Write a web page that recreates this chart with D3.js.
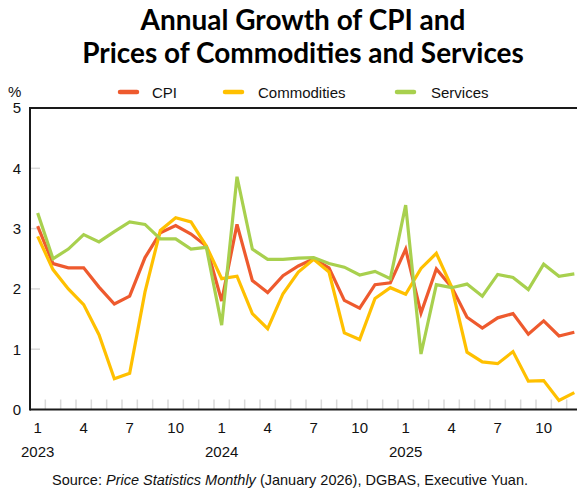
<!DOCTYPE html>
<html>
<head>
<meta charset="utf-8">
<script src="https://cdn.jsdelivr.net/npm/d3@7"></script>
<style>
  html, body { margin: 0; padding: 0; background: #fff; }
  svg { display: block; }
  .lbl { font-family: "Liberation Sans", Arial, Helvetica, sans-serif; }
</style>
</head>
<body>
<svg id="chart" width="577" height="490"></svg>
<script>
// Monthly periods, Jan 2023 – Dec 2025
const years = [2023, 2024, 2025];
const months = d3.range(1, 13);
const periods = years.flatMap(y => months.map(m => ({ year: y, month: m })));

// Year-on-year growth rates (%)
const cpi = [3.04, 2.42, 2.35, 2.35, 2.03, 1.75, 1.88, 2.52, 2.93, 3.05, 2.91, 2.71,
             1.80, 3.07, 2.14, 1.94, 2.22, 2.38, 2.50, 2.35, 1.81, 1.68, 2.07, 2.10,
             2.66, 1.60, 2.33, 2.03, 1.53, 1.35, 1.52, 1.59, 1.25, 1.47, 1.22, 1.28];
const commodities = [2.87, 2.32, 2.00, 1.74, 1.24, 0.51, 0.60, 1.95, 2.97, 3.18, 3.11, 2.71,
                     2.17, 2.21, 1.59, 1.34, 1.92, 2.28, 2.49, 2.28, 1.27, 1.16, 1.84, 2.02,
                     1.91, 2.34, 2.59, 2.03, 0.95, 0.79, 0.76, 0.96, 0.47, 0.48, 0.15, 0.28];
const services = [3.26, 2.50, 2.66, 2.90, 2.78, 2.95, 3.11, 3.07, 2.83, 2.83, 2.66, 2.69,
                  1.40, 3.86, 2.66, 2.49, 2.49, 2.51, 2.52, 2.42, 2.36, 2.23, 2.29, 2.17,
                  3.39, 0.92, 2.07, 2.02, 2.08, 1.88, 2.24, 2.19, 1.99, 2.41, 2.21, 2.25];

const seriesNames = ["CPI", "Commodities", "Services"];
const seriesColors = ["#ee5a2e", "#ffc000", "#a8d04e"];
const seriesValues = [cpi, commodities, services];

const yTicks = [0, 1, 2, 3, 4, 5];
const monthLabels = [1, 4, 7, 10];

const svg = d3.select("#chart");

const plot = { left: 30, right: 582, top: 108, bottom: 409.5 };

const x = d3.scaleBand()
  .domain(d3.range(periods.length))
  .range([plot.left, plot.right])
  .paddingInner(0).paddingOuter(0);

const y = d3.scaleLinear().domain([0, 5]).range([plot.bottom, plot.top]);

// Two-line title
const titleLines = ["Annual Growth of CPI and", "Prices of Commodities and Services"];
const title = svg.append("g")
  .attr("text-anchor", "middle")
  .attr("fill", "#000")
  .style("font-family", "Lato, 'Open Sans', sans-serif")
  .style("font-weight", 700)
  .style("font-size", "26px");
const titleEls = titleLines.map((t, i) =>
  title.append("text").attr("x", 303).attr("y", i === 0 ? 30 : 63).text(t));
// size the title so the longer line spans its intended width
const w2 = titleEls[1].node().getComputedTextLength();
title.style("font-size", (26 * 442 / w2) + "px");

// Legend
const legendItems = [
  { lx: 118, tx: 152 },
  { lx: 223, tx: 258 },
  { lx: 395, tx: 431 }
];
const legend = svg.append("g").attr("class", "lbl").style("font-size", "15px");
seriesNames.forEach((name, i) => {
  const it = legendItems[i];
  legend.append("line")
    .attr("x1", it.lx + 2).attr("x2", it.lx + 19)
    .attr("y1", 92).attr("y2", 92)
    .attr("stroke", seriesColors[i]).attr("stroke-width", 4.5)
    .attr("stroke-linecap", "round");
  legend.append("text").attr("class", "lbl").attr("x", it.tx).attr("y", 97.5).attr("fill", "#111").text(name);
});

// Unit label
svg.append("text").attr("class", "lbl").attr("x", 8).attr("y", 97)
  .style("font-size", "15px").attr("fill", "#111").text("%");

// Short inner tick marks
const tickColor = "#d9d9d9";
svg.append("g").selectAll("line")
  .data(yTicks.filter(t => t > 0 && t < 5))
  .join("line")
  .attr("x1", plot.left).attr("x2", plot.left + 10)
  .attr("y1", d => y(d)).attr("y2", d => y(d))
  .attr("stroke", tickColor).attr("stroke-width", 1.5);

svg.append("g").selectAll("line")
  .data(d3.range(1, periods.length))
  .join("line")
  .attr("x1", d => x(d)).attr("x2", d => x(d))
  .attr("y1", plot.bottom).attr("y2", plot.bottom - 10)
  .attr("stroke", tickColor).attr("stroke-width", 1.5);

// Y axis labels
const yAxis = d3.axisLeft(y).tickValues(yTicks).tickFormat(d3.format("d")).tickSize(0).tickPadding(9);
const gy = svg.append("g").attr("transform", `translate(${plot.left},0)`).call(yAxis);
gy.select(".domain").remove();
gy.attr("font-family", null).attr("font-size", null);
gy.selectAll("text").attr("class", "lbl").style("font-size", "15px").attr("fill", "#111");

// X axis labels: month numbers and years
const xAxis = d3.axisBottom(x)
  .tickValues(d3.range(periods.length).filter(i => monthLabels.includes(periods[i].month)))
  .tickFormat(i => periods[i].month)
  .tickSize(0).tickPadding(13);
const gx = svg.append("g").attr("transform", `translate(0,${plot.bottom})`).call(xAxis);
gx.select(".domain").remove();
gx.attr("font-family", null).attr("font-size", null);
gx.selectAll("text").attr("class", "lbl").style("font-size", "15px").attr("fill", "#111");

svg.append("g").selectAll("text")
  .data(d3.range(periods.length).filter(i => periods[i].month === 1))
  .join("text")
  .attr("class", "lbl")
  .attr("x", d => x(d) + x.bandwidth() / 2)
  .attr("y", 457)
  .attr("text-anchor", "middle")
  .style("font-size", "15px").attr("fill", "#111")
  .text(d => periods[d].year);

// Frame: left axis, baseline and top rule
const frame = svg.append("g").attr("stroke", "#1a1a1a").attr("stroke-width", 2).attr("fill", "none");
frame.append("line").attr("x1", plot.left).attr("x2", 577).attr("y1", plot.top).attr("y2", plot.top);
frame.append("line").attr("x1", plot.left).attr("x2", 577).attr("y1", plot.bottom).attr("y2", plot.bottom);
frame.append("line").attr("x1", plot.left).attr("x2", plot.left).attr("y1", plot.top - 1).attr("y2", plot.bottom + 1);

// Series lines
const line = d3.line()
  .x((d, i) => x(i) + x.bandwidth() / 2)
  .y(d => y(d));

svg.append("g").selectAll("path")
  .data(seriesValues)
  .join("path")
  .attr("d", d => line(d))
  .attr("fill", "none")
  .attr("stroke", (d, i) => seriesColors[i])
  .attr("stroke-width", 3.2)
  .attr("stroke-linejoin", "miter");

// Source note
const src = svg.append("text")
  .attr("class", "lbl")
  .attr("x", 290).attr("y", 485)
  .attr("text-anchor", "middle")
  .style("font-size", "14.5px").attr("fill", "#111");
src.append("tspan").text("Source: ");
src.append("tspan").attr("font-style", "italic").text("Price Statistics Monthly");
src.append("tspan").text(" (January 2026), DGBAS, Executive Yuan.");
</script>
</body>
</html>
